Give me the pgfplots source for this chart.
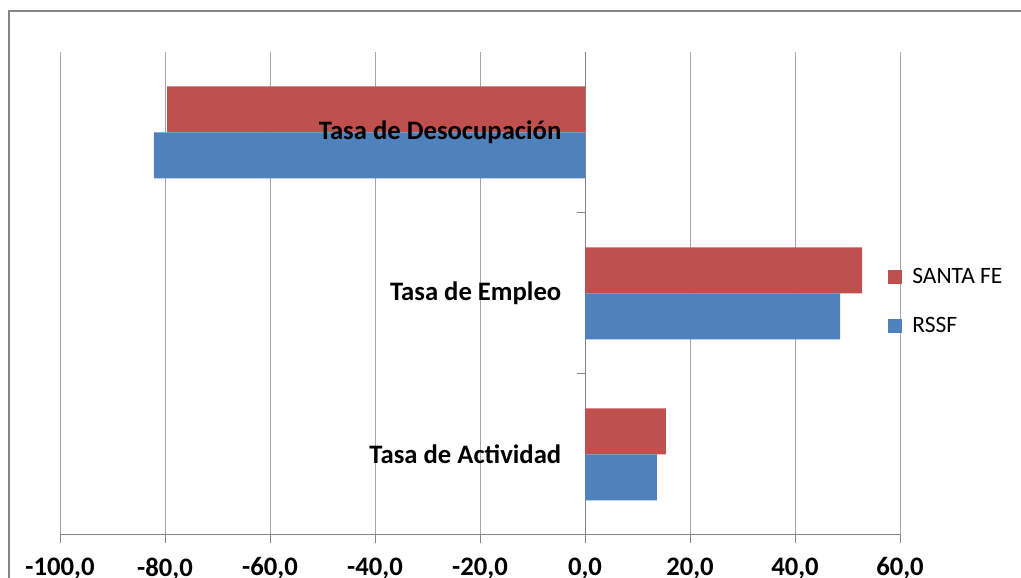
\documentclass[border=0pt]{standalone}
\usepackage{pgfplots}
\pgfplotsset{compat=1.18}
\usepackage{fontspec}
\setmainfont{Carlito}
\definecolor{sfred}{HTML}{C0504D}
\definecolor{rsblue}{HTML}{4F81BD}
\definecolor{gridgray}{HTML}{A6A6A6}
\definecolor{axgray}{HTML}{868686}
\pgfplotsset{layers/mylayers/.define layer set={axis background,axis grid,axis ticks,axis lines,pre main,main,axis tick labels,axis descriptions,axis foreground}{
  grid style={/pgfplots/on layer=axis grid},
  tick style={/pgfplots/on layer=axis ticks},
  axis line style={/pgfplots/on layer=axis lines},
  label style={/pgfplots/on layer=axis descriptions},
  legend style={/pgfplots/on layer=axis descriptions},
  title style={/pgfplots/on layer=axis descriptions},
  ticklabel style={/pgfplots/on layer=axis tick labels},
  axis background@ style={/pgfplots/on layer=axis background},
  3d box foreground style={/pgfplots/on layer=axis foreground},
}}
\begin{document}
\begin{tikzpicture}
\begin{axis}[
  set layers=mylayers,
  at={(45pt,32.25pt)}, anchor=south west,
  scale only axis, width=630pt, height=362.25pt,
  xbar, bar width=34.5pt,
  xmin=-100, xmax=60, ymin=-0.5, ymax=2.5,
  axis x line=bottom, axis y line=center,
  axis line style={axgray, line width=0.75pt, -},
  xtick={-100,-80,...,60},
  xmajorgrids, grid style={gridgray, line width=0.75pt},
  tick align=outside, major tick length=6pt,
  tick style={axgray, line width=0.75pt},
  xticklabel style={font=\fontsize{20}{22}\selectfont\bfseries, yshift=-7.5pt},
  /pgf/number format/.cd, fixed, fixed zerofill, precision=1, use comma, 1000 sep={}, assume math mode=true,
  /pgfplots/.cd,
  ytick={0,1,2},
  yticklabels={Tasa de Actividad, Tasa de Empleo, Tasa de Desocupación},
  yticklabel style={font=\fontsize{20}{22}\selectfont\bfseries, anchor=east, xshift=-8.25pt},
  y tick style={draw=none},
  extra y ticks={0.5,1.5},
  extra y tick labels={},
  extra y tick style={y tick style={draw=axgray}},
  legend style={draw=none, fill=none, at={(0.985,0.559)}, anchor=north west,
    font=\fontsize{17.6}{20}\selectfont, row sep=20pt, inner sep=0pt},
  legend cell align=left,
  legend image code/.code={\fill[#1] (0pt,-5.25pt) rectangle (10.5pt,5.25pt); \path (16.5pt,0pt);},
]
\addplot[fill=sfred, draw=none, bar shift=17.25pt] coordinates {(15.4,0) (52.8,1) (-79.6,2)};
\addplot[fill=rsblue, draw=none, bar shift=-17.25pt] coordinates {(13.7,0) (48.6,1) (-82.1,2)};
\legend{SANTA FE, RSSF}
\end{axis}
\draw[axgray, line width=1.5pt] (6.75pt,-15pt) -- (6.75pt,425.25pt) -- (780pt,425.25pt);
\pgfresetboundingbox
\useasboundingbox (0pt,0pt) rectangle (765.75pt,433.5pt);
\end{tikzpicture}
\end{document}
